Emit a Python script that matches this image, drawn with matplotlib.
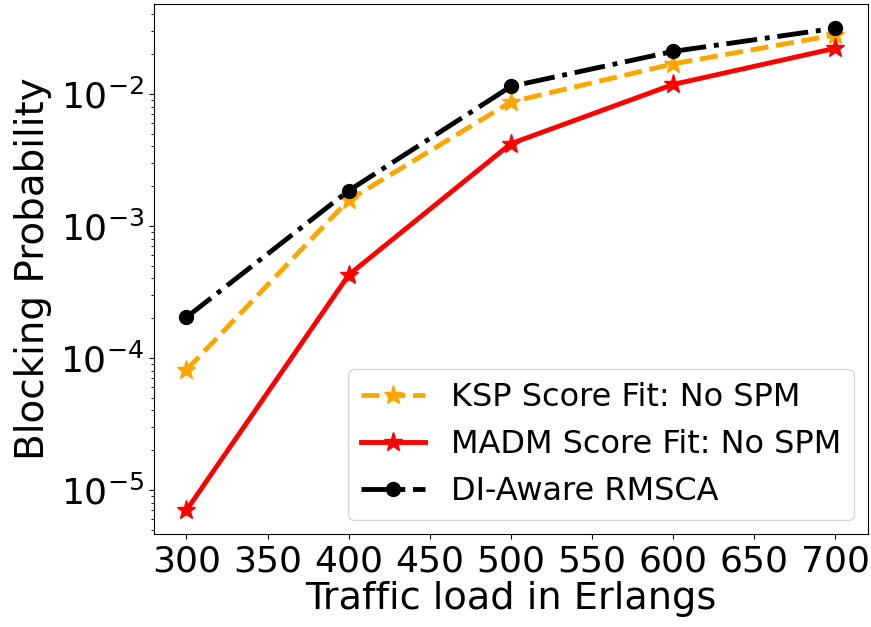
import matplotlib
matplotlib.use("Agg")
import matplotlib.pyplot as plt

loads = [300, 400, 500, 600, 700]
ksp = [8.1e-5, 1.57e-3, 8.7e-3, 1.69e-2, 2.8e-2]
madm = [7.0e-6, 4.25e-4, 4.2e-3, 1.18e-2, 2.22e-2]
di = [2.03e-4, 1.85e-3, 1.14e-2, 2.1e-2, 3.15e-2]
xticks = [300, 350, 400, 450, 500, 550, 600, 650, 700]

fig = plt.figure(figsize=(8.71, 6.27), dpi=100)
ax = fig.add_axes([0.1768, 0.1478, 0.8197, 0.8458])
ax.plot(loads, ksp, linestyle='--', marker='*', color='orange', lw=3.5, ms=14, label='KSP Score Fit: No SPM')
ax.plot(loads, madm, linestyle='-', marker='*', color='red', lw=3.5, ms=14, label='MADM Score Fit: No SPM')
ax.plot(loads, di, linestyle='-.', marker='o', color='black', lw=3.5, ms=10, label='DI-Aware RMSCA')
ax.set_yscale('log')
ax.set_xlim(280, 720)
ax.set_ylim(4.6e-6, 4.8e-2)
ax.set_xticks(xticks)
ax.tick_params(axis='both', which='major', labelsize=26)
ax.set_xlabel('Traffic load in Erlangs', fontsize=27.5, labelpad=2)
ax.set_ylabel('Blocking Probability', fontsize=28, labelpad=6)
ax.legend(loc='lower right', fontsize=23, borderaxespad=0.45)
fig.savefig('out.png', dpi=100)
